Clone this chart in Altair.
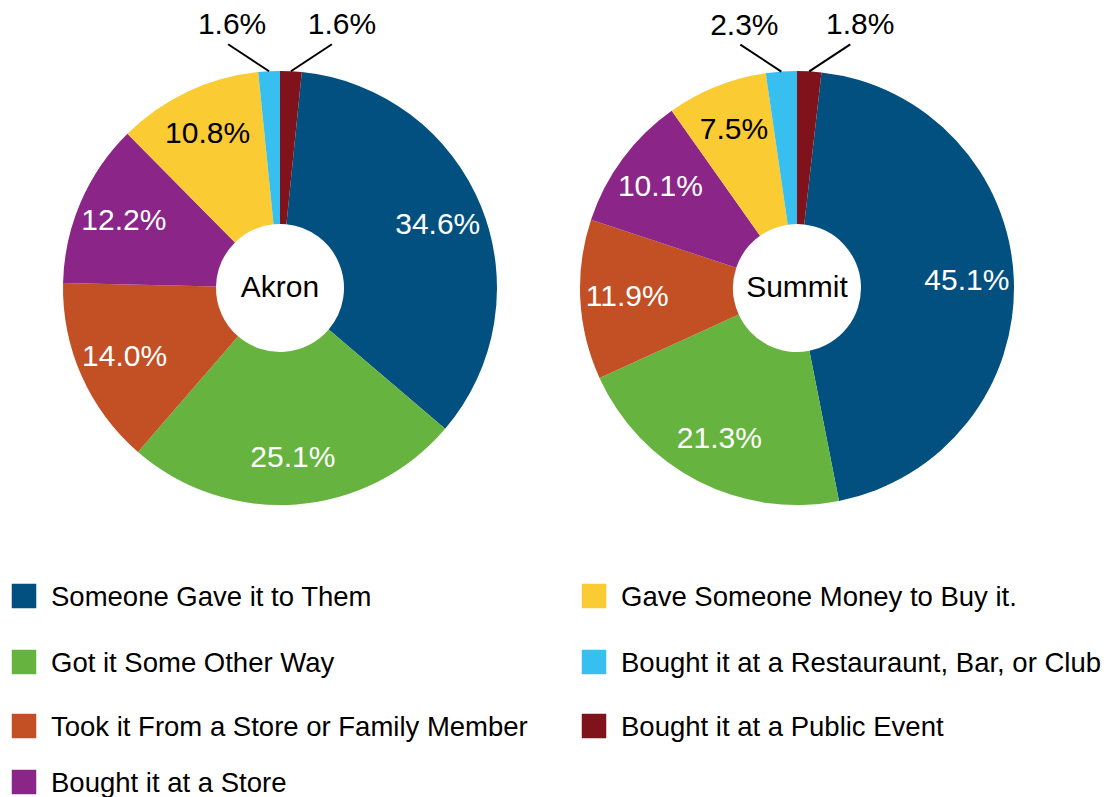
import math
import altair as alt
import pandas as pd

# ---------------- data ----------------
categories = [
    "Someone Gave it to Them",
    "Got it Some Other Way",
    "Took it From a Store or Family Member",
    "Bought it at a Store",
    "Gave Someone Money to Buy it.",
    "Bought it at a Restauraunt, Bar, or Club",
    "Bought it at a Public Event",
]
colors = ["#02507F", "#67B33F", "#C34F25", "#8B2688", "#FACB33", "#37BFEF", "#80121B"]
akron = [34.6, 25.1, 14.0, 12.2, 10.8, 1.6, 1.6]
summit = [45.1, 21.3, 11.9, 10.1, 7.5, 2.3, 1.8]
pie_names = ["Akron", "Summit"]
slice_order = [1, 2, 3, 4, 5, 6, 0]      # clockwise from 12 o'clock
legend_col = [0, 0, 0, 0, 1, 1, 1]
legend_row = [0, 1, 2, 3, 0, 1, 2]

# ---------------- layout ----------------
FONT = "Liberation Sans"
W, H = 1098, 789
CENTERS_X = [272, 789]
CY = 280
R = 217
R_IN = 64
LABEL_R = 170
SMALL = 5.0

color_scale = alt.Scale(domain=categories, range=colors)


def pie_frame(values):
    df = pd.DataFrame({"category": categories, "value": values, "order": slice_order})
    df["inner"] = [f"{v:.1f}%" if v >= SMALL else "" for v in values]
    df["tc"] = ["#000000" if c == categories[4] else "#FFFFFF" for c in categories]
    return df


def leader_frame(values, cx):
    total = sum(values)
    df = pd.DataFrame({"category": categories, "value": values, "order": slice_order})
    df = df.sort_values("order")
    df["cum"] = df["value"].cumsum() - df["value"] / 2
    rows = []
    for _, r in df.iterrows():
        if r["value"] >= SMALL:
            continue
        a = 2 * math.pi * r["cum"] / total
        sx = cx + R * math.sin(a)
        sy = CY - R * math.cos(a)
        sign = 1 if math.sin(a) > 0 else -1
        ex = sx + sign * 41
        ey = sy - 27
        rows.append({
            "x1": sx, "y1": sy, "x2": ex, "y2": ey,
            "lx": ex + 7 + sign * 3, "ly": ey - 19,
            "label": f"{r['value']:.1f}%",
        })
    return pd.DataFrame(rows)


layers = []
for name, vals, cx in zip(pie_names, [akron, summit], CENTERS_X):
    df = pie_frame(vals)
    base = alt.Chart(df).encode(
        theta=alt.Theta("value:Q", stack=True),
        order=alt.Order("order:Q"),
    )
    arcs = base.mark_arc(outerRadius=R, innerRadius=R_IN).encode(
        color=alt.Color("category:N", scale=color_scale, legend=None),
        x=alt.value(cx), y=alt.value(CY),
    )
    texts = base.mark_text(radius=LABEL_R, font=FONT, fontSize=30,
                           align="center", baseline="middle").encode(
        text="inner:N",
        color=alt.Color("tc:N", scale=None),
        x=alt.value(cx), y=alt.value(CY),
    )
    center = alt.Chart(pd.DataFrame({"name": [name]})).mark_text(
        font=FONT, fontSize=30, color="#000000", align="center", baseline="middle"
    ).encode(text="name:N", x=alt.value(cx), y=alt.value(CY))

    ld = leader_frame(vals, cx)
    rules = alt.Chart(ld).mark_rule(color="#000000", strokeWidth=2).encode(
        x=alt.X("x1:Q", scale=None), y=alt.Y("y1:Q", scale=None),
        x2="x2:Q", y2="y2:Q",
    )
    outs = alt.Chart(ld).mark_text(font=FONT, fontSize=30, color="#000000",
                                   align="center", baseline="middle").encode(
        x=alt.X("lx:Q", scale=None), y=alt.Y("ly:Q", scale=None), text="label:N",
    )
    layers += [arcs, texts, center, rules, outs]

# ---------------- legend ----------------
leg = pd.DataFrame({"category": categories, "col": legend_col, "row": legend_row})
lx = alt.X("col:Q", scale=alt.Scale(domain=[0, 1], range=[16, 586]), axis=None)
ly = alt.Y("row:Q", scale=alt.Scale(domain=[0, 1, 2, 3], range=[588, 654, 718, 774]), axis=None)
squares = alt.Chart(leg).mark_square(size=600, opacity=1).encode(
    x=lx, y=ly, color=alt.Color("category:N", scale=color_scale, legend=None)
)
legtext = alt.Chart(leg).mark_text(font=FONT, fontSize=27.5, color="#000000",
                                   align="left", baseline="middle", dx=27, dy=2).encode(
    x=lx, y=ly, text="category:N"
)
layers += [squares, legtext]

chart = alt.layer(*layers).resolve_scale(theta="independent").properties(
    width=W, height=H, padding=0, autosize="none", background="white"
).configure_view(stroke=None)

chart.save("out.html", embed_options={"renderer": "svg", "actions": False})
